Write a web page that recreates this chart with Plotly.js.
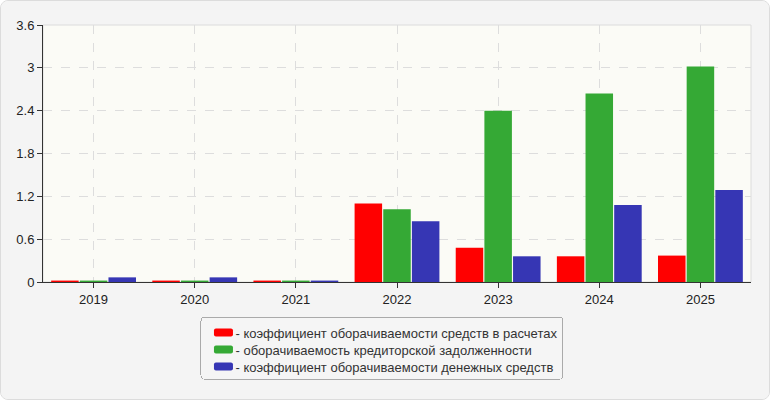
<!DOCTYPE html>
<html>
<head>
<meta charset="utf-8">
<script src="https://cdn.plot.ly/plotly-3.0.1.min.js"></script>
<style>
  html, body { margin: 0; padding: 0; background: #ffffff; }
  #chart {
    width: 768px; height: 398px;
    background: #f4f4f4;
    border: 1px solid #dcdcdc;
    border-radius: 8px;
    overflow: hidden;
  }
</style>
</head>
<body>
<div id="chart"></div>
<script>
var years = ['2019', '2020', '2021', '2022', '2023', '2024', '2025']

var settlements = [0.02, 0.02, 0.02, 1.1, 0.48, 0.36, 0.37]
var payables = [0.02, 0.02, 0.02, 1.02, 2.4, 2.64, 3.02]
var cash = [0.065, 0.065, 0.02, 0.85, 0.36, 1.08, 1.29]

var names = [
  '- коэффициент оборачиваемости средств в расчетах',
  '- оборачиваемость кредиторской задолженности',
  '- коэффициент оборачиваемости денежных средств'
]
var colors = ['#ff0000', '#35a935', '#3636b4']

function barTrace(values, i) {
  return {
    x: years,
    y: values,
    name: names[i],
    type: 'bar',
    marker: { color: colors[i] },
    hoverinfo: 'x+y'
  }
}

var data = [
  barTrace(settlements, 0),
  barTrace(payables, 1),
  barTrace(cash, 2)
]

var layout = {
  width: 768,
  height: 398,
  margin: { t: 24, r: 18, b: 116, l: 42 },
  paper_bgcolor: '#f4f4f4',
  plot_bgcolor: '#fbfbf6',
  font: { family: '"Liberation Sans", Arial, sans-serif', size: 13, color: '#222' },
  barmode: 'group',
  bargap: 0.15,
  bargroupgap: 0.04,
  showlegend: true,
  xaxis: {
    type: 'category',
    showgrid: true,
    gridcolor: '#dddddd',
    griddash: 'dash',
    showline: true,
    linecolor: '#333',
    linewidth: 1,
    ticks: 'outside',
    ticklen: 5,
    tickcolor: '#333',
    tickfont: { size: 13, color: '#222' },
    fixedrange: true
  },
  yaxis: {
    range: [0, 3.6],
    dtick: 0.6,
    showgrid: true,
    gridcolor: '#dddddd',
    griddash: 'dash',
    zeroline: false,
    showline: true,
    linecolor: '#333',
    linewidth: 1,
    ticks: 'outside',
    ticklen: 5,
    tickcolor: '#333',
    tickfont: { size: 13, color: '#222' },
    fixedrange: true
  },
  shapes: [{
    type: 'rect', xref: 'paper', yref: 'paper',
    x0: 0, x1: 1, y0: 0, y1: 1,
    line: { color: '#dcdcdc', width: 1 },
    layer: 'below'
  }],
  legend: {
    x: 0.483,
    xanchor: 'center',
    y: -0.13,
    yanchor: 'top',
    bgcolor: '#f5f5f5',
    bordercolor: '#aaaaaa',
    borderwidth: 1,
    font: { size: 13, color: '#333' },
    tracegroupgap: 0,
    itemclick: false
  }
}

Plotly.newPlot('chart', data, layout, { displayModeBar: false, staticPlot: true }).then(function(gd) {
  // wider, flatter rounded swatches sitting right before the text, like the original
  var swatch = 'M-9.5,-2A2,2 0 0 1 -7.5,-4H7.5A2,2 0 0 1 9.5,-2V2A2,2 0 0 1 7.5,4H-7.5A2,2 0 0 1 -9.5,2Z'
  gd.querySelectorAll('.legend .legendpoints path').forEach(function(p) {
    p.setAttribute('d', swatch)
    p.setAttribute('transform', 'translate(22,0)')
  })
  gd.querySelectorAll('.legend .legendtext').forEach(function(t) {
    t.setAttribute('x', 34)
  })

  // tighter rows (17px apart)
  var rows = gd.querySelectorAll('.legend .traces')
  if (rows.length > 1) {
    var parse = function(el) {
      var m = /translate\(\s*([-\d.]+)[ ,]+([-\d.]+)\)/.exec(el.getAttribute('transform') || '')
      return m ? [parseFloat(m[1]), parseFloat(m[2])] : [0, 0]
    }
    var first = parse(rows[0])
    var step = parse(rows[1])[1] - first[1]
    rows.forEach(function(r, i) {
      var xy = parse(r)
      r.setAttribute('transform', 'translate(' + xy[0] + ',' + (first[1] + i * 17) + ')')
    })
    var bg = gd.querySelector('.legend .bg')
    var h = parseFloat(bg.getAttribute('height'))
    bg.setAttribute('height', h - (rows.length - 1) * (step - 17) - 3)
    var w = parseFloat(bg.getAttribute('width'))
    bg.setAttribute('width', w - 6)
    bg.setAttribute('rx', 4)
    bg.setAttribute('ry', 4)
  }
})
</script>
</body>
</html>
